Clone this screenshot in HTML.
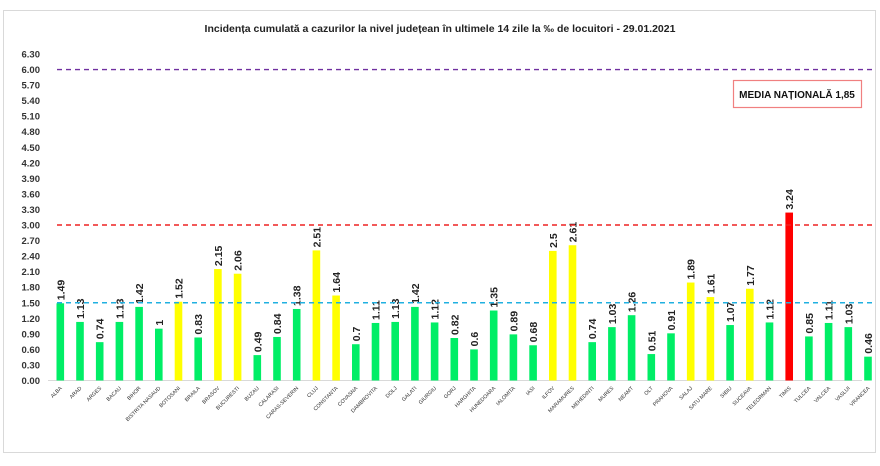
<!DOCTYPE html>
<html><head><meta charset="utf-8"><style>
html,body{margin:0;padding:0;background:#fff;}
svg{display:block;font-family:"Liberation Sans",sans-serif;}
</style></head><body>
<svg id="c" width="880" height="466" xmlns="http://www.w3.org/2000/svg">
<rect x="3.5" y="10.5" width="872" height="442" fill="#fff" stroke="#d9d9d9"/>
<text x="440" y="32" text-anchor="middle" font-size="10.5" font-weight="bold" fill="#222">Incidența cumulată a cazurilor la nivel județean în ultimele 14 zile la ‰ de locuitori - 29.01.2021</text>
<rect x="733.5" y="80.5" width="128" height="27" fill="#fff" stroke="#f08080" stroke-width="1.2"/>
<text x="797" y="98" text-anchor="middle" font-size="10" font-weight="bold" fill="#111">MEDIA NAȚIONALĂ  1,85</text>
<g id="g"></g>
</svg>
<script>
var d=[["ALBA",1.49,"g"],["ARAD",1.13,"g"],["ARGES",0.74,"g"],["BACAU",1.13,"g"],["BIHOR",1.42,"g"],["BISTRITA NASAUD",1,"g"],["BOTOSANI",1.52,"y"],["BRAILA",0.83,"g"],["BRASOV",2.15,"y"],["BUCURESTI",2.06,"y"],["BUZAU",0.49,"g"],["CALARASI",0.84,"g"],["CARAS-SEVERIN",1.38,"g"],["CLUJ",2.51,"y"],["CONSTANTA",1.64,"y"],["COVASNA",0.7,"g"],["DAMBROVITA",1.11,"g"],["DOLJ",1.13,"g"],["GALATI",1.42,"g"],["GIURGIU",1.12,"g"],["GORJ",0.82,"g"],["HARGHITA",0.6,"g"],["HUNEDOARA",1.35,"g"],["IALOMITA",0.89,"g"],["IASI",0.68,"g"],["ILFOV",2.5,"y"],["MARAMURES",2.61,"y"],["MEHEDINTI",0.74,"g"],["MURES",1.03,"g"],["NEAMT",1.26,"g"],["OLT",0.51,"g"],["PRAHOVA",0.91,"g"],["SALAJ",1.89,"y"],["SATU MARE",1.61,"y"],["SIBIU",1.07,"g"],["SUCEAVA",1.77,"y"],["TELEORMAN",1.12,"g"],["TIMIS",3.24,"r"],["TULCEA",0.85,"g"],["VALCEA",1.11,"g"],["VASLUI",1.03,"g"],["VRANCEA",0.46,"g"]];
var col={g:"#00ee66",y:"#ffff00",r:"#ff0000"};
var y0=380.5,k=51.83,s="";
function Y(v){return y0-v*k;}
for(var i=0;i<=21;i++){var v=i*0.3;s+='<text x="40" y="'+(Y(v)+3.5)+'" text-anchor="end" font-size="9.5" font-weight="bold" fill="#333">'+v.toFixed(2)+'</text>';}
s+='<line x1="48" x2="862" y1="'+y0+'" y2="'+y0+'" stroke="#d9d9d9"/>';
var x0=60.3,dx=19.7;
d.forEach(function(e,i){var x=x0+i*dx,v=e[1],t=Y(v);
s+='<rect x="'+(x-3.8)+'" y="'+t+'" width="7.6" height="'+(y0-t)+'" fill="'+col[e[2]]+'"/>';
s+='<text transform="translate('+(x+4)+','+(t-3)+') rotate(-90)" font-size="10.5" font-weight="bold" fill="#222">'+v+'</text>';
s+='<text transform="translate('+(x+2)+','+(y0+8)+') rotate(-45)" text-anchor="end" font-size="5.3" fill="#333">'+e[0]+'</text>';});
[[6,"#7030a0"],[3,"#ee2222"],[1.5,"#20b0e0"]].forEach(function(l){s+='<line x1="57" x2="876" y1="'+Y(l[0])+'" y2="'+Y(l[0])+'" stroke="'+l[1]+'" stroke-width="1.4" stroke-dasharray="5,4"/>';});
document.getElementById("g").innerHTML=s;
</script>
</body></html>
